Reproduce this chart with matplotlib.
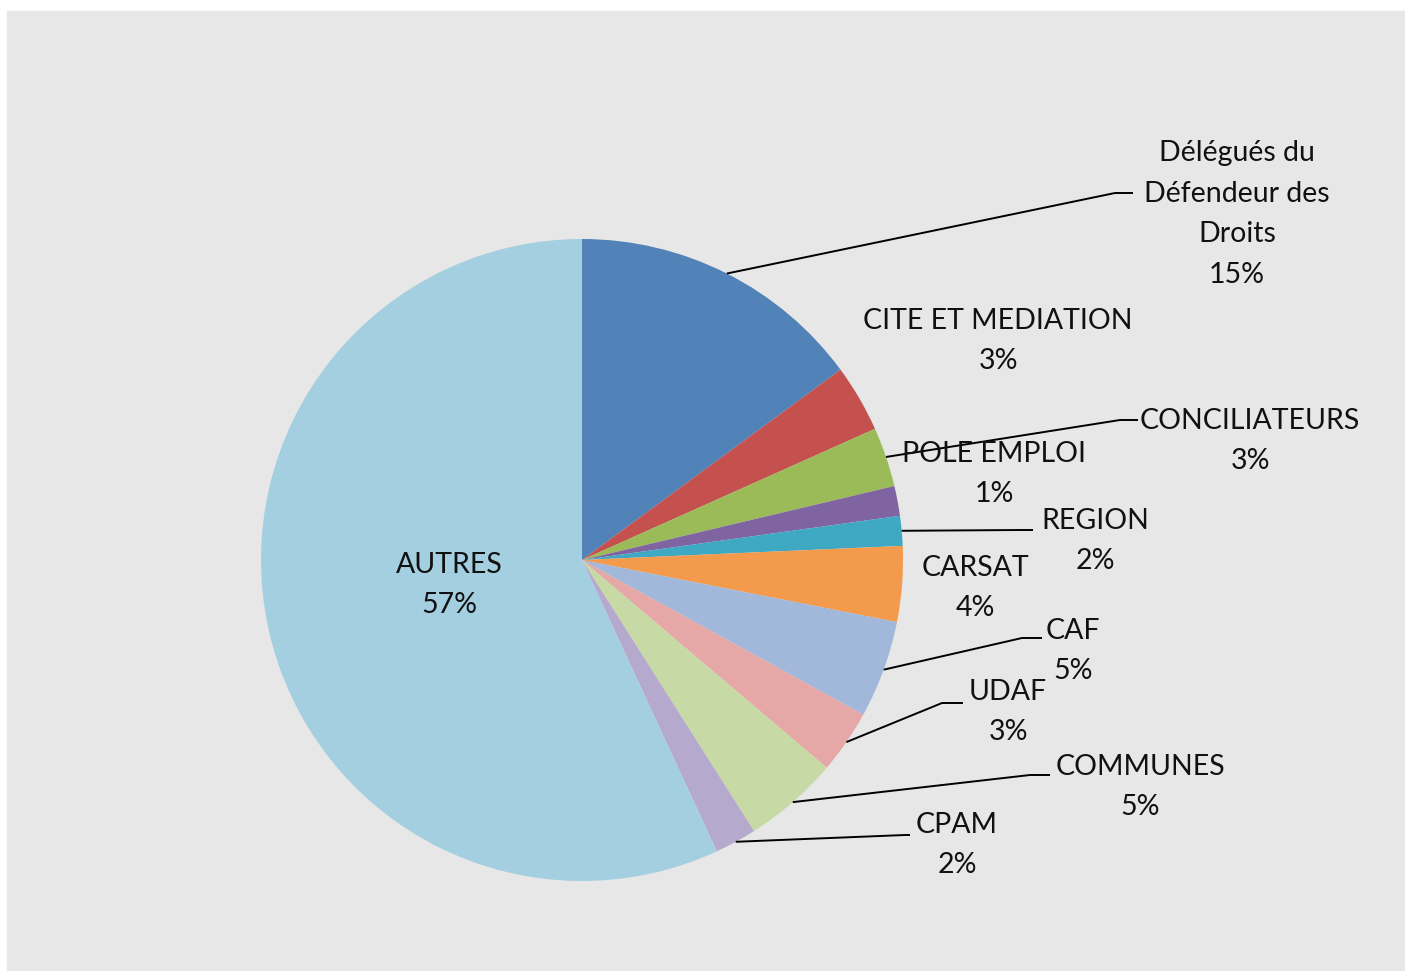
import numpy as np
import matplotlib
matplotlib.use("Agg")
import matplotlib.pyplot as plt
from matplotlib.patches import Rectangle

W, H = 1405, 971

# ===== DATA =====
names = ["Délégués du\nDéfendeur des\nDroits", "CITE ET MEDIATION", "CONCILIATEURS",
         "POLE EMPLOI", "REGION", "CARSAT", "CAF", "UDAF", "COMMUNES", "CPAM", "AUTRES"]
shares = [14.9, 3.4, 3.0, 1.5, 1.5, 3.8, 4.9, 3.2, 4.8, 2.1, 56.9]
pct_shown = [15, 3, 3, 1, 2, 4, 5, 3, 5, 2, 57]

colors = ["#5283B8", "#C4514E", "#9BBB59", "#8064A2", "#3FA9C4", "#F39A4C",
          "#A2B8DA", "#E5A8A7", "#C7D9A5", "#B6A9CE", "#A3CFE0"]

# label centre (image px), leader elbow and end (None = no leader)
label_xy = [(1237, 214), (998, 341), (1250, 441), (994, 474), (1095, 541), (975, 588),
            (1073, 651), (1008, 712), (1140, 787), (957, 845), (449, 585)]
leader = [((1115, 193), (1133, 193)), None, ((1120, 420), (1138, 420)), None,
          ((1020, 530), (1033, 530)), None, ((1022, 638), (1042, 638)),
          ((942, 703), (963, 703)), ((1030, 775), (1050, 775)),
          ((905, 835), (910, 835)), None]

CX, CY, R = 582, 560, 321

plt.rcParams.update({
    "font.family": ["Lato", "DejaVu Sans"],
    "font.size": 20.5,
})

fig = plt.figure(figsize=(W / 100, H / 100), dpi=100, facecolor="white")
ax = fig.add_axes([0, 0, 1, 1])
ax.set_facecolor("none")
ax.add_patch(Rectangle((7, 0), W - 7, H - 11, color="#E7E7E7", zorder=-5))

wedges, _ = ax.pie(shares, colors=colors, startangle=90, counterclock=False,
                   center=(CX, H - CY), radius=R, frame=True,
                   wedgeprops=dict(linewidth=0))
ax.set_xlim(0, W)
ax.set_ylim(0, H)
ax.set_aspect("equal")
ax.axis("off")

for i, w in enumerate(wedges):
    lx, ly = label_xy[i]
    ax.text(lx, H - ly, f"{names[i]}\n{pct_shown[i]}%", ha="center", va="center",
            color="#111111", linespacing=1.7)
    if leader[i] is None:
        continue
    mid = np.radians((w.theta1 + w.theta2) / 2)
    sx, sy = CX + R * np.cos(mid), (H - CY) + R * np.sin(mid)
    (ex, ey), (fx, fy) = leader[i]
    ax.plot([sx, ex, fx], [sy, H - ey, H - fy], color="black", lw=1.4,
            solid_capstyle="butt")

fig.savefig("out.png", dpi=100, facecolor=fig.get_facecolor())
